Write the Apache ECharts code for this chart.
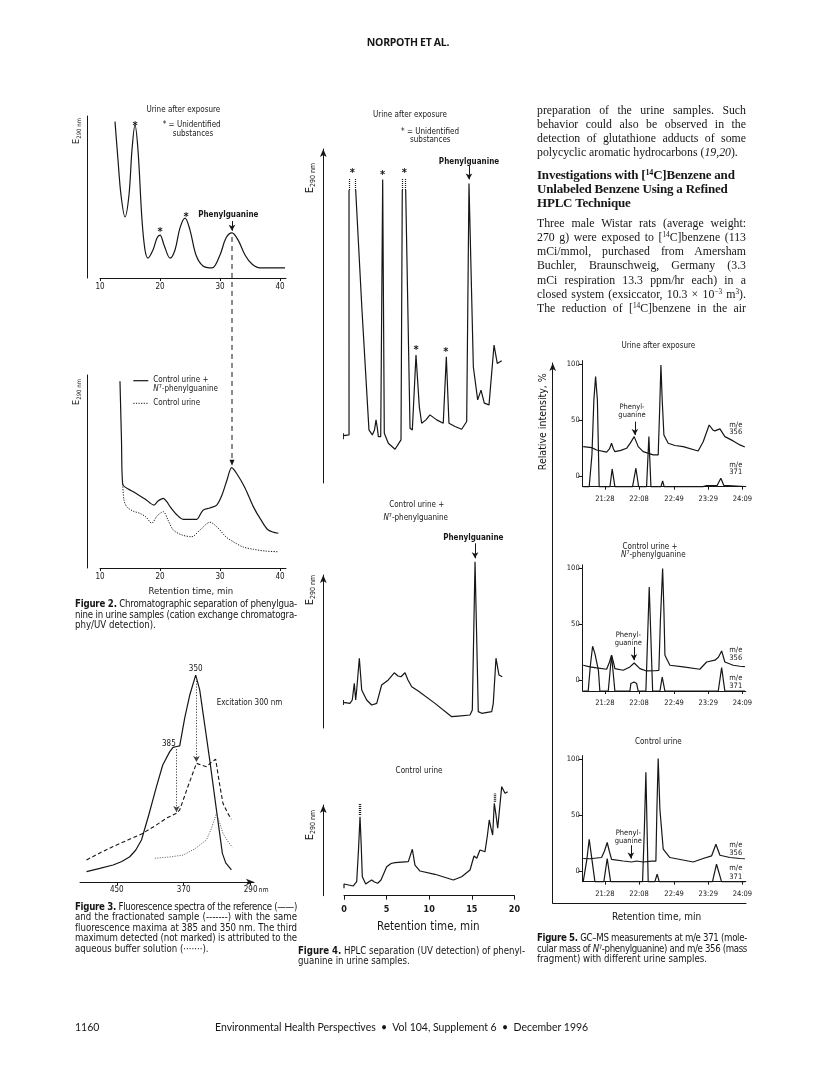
<!DOCTYPE html>
<html lang="en">
<head>
<meta charset="utf-8">
<title>Norpoth et al. - Figures 2 to 5</title>
<script src="https://cdn.jsdelivr.net/npm/echarts@6/dist/echarts.min.js"></script>
<style>
  html, body { margin: 0; padding: 0; background: #fff; }
  #page { position: relative; width: 816px; height: 1070px; overflow: hidden; }
  #chart { position: absolute; left: 0; top: 0; width: 816px; height: 1070px; }
  #text { position: absolute; left: 0; top: 0; width: 816px; height: 1070px; pointer-events: none; }
  .t { position: absolute; white-space: nowrap; color: #161616; }
  .cap { font-family: 'Liberation Sans Narrow', 'Arial Narrow', 'DejaVu Sans Condensed', sans-serif; font-size: 9.6px; }
  .body { font-family: 'Liberation Serif', serif; font-size: 11.8px; }
  .head { font-family: 'Liberation Serif', serif; font-size: 13px; font-weight: bold; letter-spacing: -0.2px; }
  sup { font-size: 0.62em; line-height: 0; vertical-align: 0.5em; }
</style>
</head>
<body>
<div id="page">
  <div id="chart"></div>
  <div id="text"></div>
</div>
<script>
// ---- Figure 2: cation exchange chromatogram, E290 vs retention time (min)
const fig2Ticks = [10, 20, 30, 40];
const fig2Time = [12.5, 13.0, 13.5, 14.17, 14.83, 15.33, 15.83, 16.33, 17.0, 17.5, 18.0, 18.83, 19.5, 20.0, 20.67, 21.67, 22.5, 23.33, 24.17, 25.0, 26.0, 27.17, 28.67, 30.0, 31.0, 32.0, 33.0, 34.17, 35.33, 36.67, 40.83];
const fig2Exposed = [96.5, 72.8, 51.2, 37.7, 51.2, 79, 94.4, 79, 35.8, 17.3, 12.3, 17.3, 24.7, 26.5, 20.4, 12.3, 17.3, 30.9, 37, 29.6, 14.2, 7.4, 6.2, 14.2, 24.7, 27.8, 23.5, 14.2, 8.6, 6.2, 6.2];
const fig2CtrlTime = [13.33, 13.58, 13.78, 15.55, 17.5, 19.0, 19.67, 20.55, 21.17, 21.67, 22.67, 23.88, 26.12, 26.67, 27.22, 28.33, 29.45, 30.33, 31.17, 31.95, 32.83, 34.17, 35.55, 36.83, 38.05, 39.72];
const fig2Spiked = [96.8, 66.3, 43.5, 39.5, 35.8, 32.6, 34.7, 36.1, 34.2, 31.8, 28, 25.2, 25.2, 27.5, 30.1, 31.1, 32.6, 37.8, 45.6, 52, 48.7, 41.5, 31.8, 24.9, 19.7, 18];
const fig2CtrlOnlyTime = [13.78, 14.0, 14.45, 15.5, 16.67, 17.67, 18.62, 19.5, 20.55, 21.33, 22.22, 23.67, 25.28, 26.67, 28.33, 29.67, 31.0, 32.22, 33.83, 35.55, 37.5, 39.72];
const fig2Ctrl = [43.5, 35.2, 31.8, 29.5, 28.3, 26.4, 23.2, 26.9, 29.2, 24.9, 19.7, 17.1, 16.2, 19.7, 23.7, 20.7, 16.1, 13.6, 10.9, 9.7, 8.8, 8.4];
const fig2StarAt = [[15.83, 95.5], [20.0, 30.1], [24.33, 39.5]];
const fig2Arrow = [[32.0, 35.2], [32.0, 29.2]];

// ---- Figure 3: fluorescence spectra, intensity vs wavelength (nm)
const fig3Ticks = [450, 370, 290];
const fig3RefWl = [486.2, 470.3, 454.4, 444, 434.5, 427.3, 420.5, 411.8, 402.6, 395.1, 386.7, 382.8, 378.4, 374.8, 368.8, 362.8, 355.7, 350.9, 344.9, 338.9, 330.9, 323.8, 319.8, 313];
const fig3Ref = [4.9, 6.4, 8.0, 9.7, 11.9, 15.1, 19.8, 31.6, 45, 55.2, 61.5, 63.5, 63.9, 64.2, 77.4, 88.2, 97.6, 90.6, 74.1, 57.5, 34, 13.5, 9, 5.7];
const fig3FracWl = [486.2, 470.3, 454.4, 436.9, 420.5, 404.6, 390.3, 378.7, 374.8, 365.2, 354.8, 349.6, 342.9, 336.6, 331.8, 327, 323.1, 317.5, 313];
const fig3Frac = [10.4, 13.7, 16.7, 19.8, 22.6, 26.4, 30.2, 32.4, 34, 44.8, 56, 55.2, 54.4, 56.6, 57.9, 45.8, 37.1, 32.5, 29.6];
const fig3BufWl = [404.6, 386.7, 370.8, 356.9, 342.9, 336.6, 331, 327, 323.1, 317.5, 312];
const fig3Buf = [11.2, 11.8, 12.7, 15.6, 19.8, 25.5, 32.4, 27.8, 23, 19.3, 16.4];
const fig3Arrows = [[[378.7, 62.7], [378.7, 33.0]], [[354.8, 96.2], [354.8, 56.6]]];

// ---- Figure 4: HPLC, E290 vs retention time (min); null = gap above a cut-off peak
const fig4ExpTime = [-0.08, -0.08, -0.08, 0.59, 0.59, 0.98, 1.37, 2.11, 2.93, 3.32, 3.58, 3.76, 3.91, 4.03, 4.31, 4.54, 4.73, 5.2, 5.99, 6.69, 6.84, 7.04, 7.24, 7.75, 8.02, 8.45, 8.84, 9.12, 9.62, 10.09, 10.88, 11.65, 12.01, 12.32, 13.03, 13.81, 14.4, 14.67, 15.18, 15.69, 16.08, 16.47, 17.02, 17.61, 17.99, 18.51];
const fig4Exp = [13.1, 14.9, 14.2, 14.4, 87.7, null, 87.7, 51.8, 15.9, 14.4, 15.9, 18.9, 16.5, 13.9, 13.9, 90.9, 14.9, 11.9, 10.1, 12.9, 87.7, null, 87.7, 16.4, 15.9, 38.3, 22.8, 17.9, 18.9, 20.4, 18.9, 17.9, 37.8, 17.9, 16.9, 16.1, 18.4, 89.7, 34.8, 24.9, 27.8, 23.9, 23.4, 41.3, 35.8, 36.6];
const fig4SpikedTime = [-0.08, -0.08, -0.08, 0.7, 0.97, 1.21, 1.37, 1.49, 1.8, 2.08, 2.66, 3.25, 3.84, 4.42, 5.2, 5.9, 6.34, 6.69, 7.16, 7.51, 7.95, 8.72, 10.68, 12.64, 13.42, 14.79, 15.06, 15.38, 15.76, 16.16, 17.34, 17.52, 17.84, 18.19, 18.58];
const fig4Spiked = [15.0, 18.3, 16.7, 16.1, 18.3, 29.2, 18.3, 24.8, 45.6, 24.8, 18.3, 15.0, 16.1, 28.1, 31.4, 36.1, 34, 33.5, 36.1, 31.4, 27, 24.2, 16.1, 7.4, 7.8, 8.5, 11.8, 108.7, 10.7, 9.6, 10.7, 16.1, 45.6, 34.6, 33.5];
const fig4CtrlTime = [0, 0, 0, 1.09, 1.49, 1.7, 1.88, 2.02, 2.15, 2.55, 2.88, 3.25, 3.58, 3.96, 4.34, 5.01, 5.52, 5.99, 7.55, 7.75, 8.02, 8.33, 8.92, 10.68, 12.83, 13.81, 14.79, 15.26, 15.58, 15.96, 16.55, 16.84, 17.05, 17.25, 17.45, 17.64, 17.84, 18.04, 18.51, 18.9, 19.21];
const fig4Ctrl = [8.2, 12.9, 10.7, 10.7, 15.4, 50.4, 87.1, 55.9, 20.9, 12.9, 15.1, 17.3, 15.1, 13.7, 17.3, 32, 35.5, 36.4, 37.5, 35.7, 51.2, 33.8, 27.2, 23.6, 17.3, 20.9, 28.3, 43.8, 41.2, 50.4, 48.5, 66.9, 83.5, 74.6, 66.9, 101.9, 89, 74.3, 120.2, 112.9, 114.7];
const fig4StarAt = [[0.97, 93.7], [4.54, 93.2], [7.08, 93.7], [8.45, 40.6], [11.94, 40.0]];
const fig4ExpArrow = [[14.67, 94.9], [14.67, 90.9]];
const fig4SpikedArrow = [[15.38, 120.7], [15.38, 110.9]];
const fig4ExpCut = [[[0.59, 87.7], [0.59, 91.3]], [[1.37, 87.7], [1.37, 91.3]], [[6.84, 87.7], [6.84, 91.3]], [[7.24, 87.7], [7.24, 91.3]]];
const fig4CtrlCut = [[[1.88, 89], [1.88, 102.2]], [[17.64, 103.6], [17.64, 112.9]]];

// ---- Figure 5: GC-MS, relative intensity (%) vs time (seconds after 20:00)
const fig5TickSec = [88, 128, 169, 209, 249];
const fig5TickLabels = ['21:28', '22:08', '22:49', '23:29', '24:09'];
const fig5YTicks = [0, 50, 100];
const fig5Time356Top = [62.6, 72.4, 78.3, 90, 93.3, 95.8, 98, 99.7, 106.7, 113.4, 117.9, 122.3, 127, 132.8, 144.6, 150.4, 152.1, 153.6, 155.1, 157.1, 162.1, 170, 179.7, 197.2, 203.1, 210.1, 214.4, 216.8, 222.7, 228.5, 238.2, 246.1, 251.9];
const fig5Exp356 = [26.2, 25.3, 23.2, 21.2, 24.1, 29.2, 24.1, 21.7, 22.8, 24.7, 29.5, 35.1, 26.2, 21.7, 18.8, 18.8, 58.9, 99.1, 67.9, 36.6, 29.2, 27.2, 26.2, 22.3, 30.6, 45.5, 41.1, 40.2, 42, 35.1, 31.3, 27.7, 25.9];
const fig5Time371Top = [62.6, 69.6, 72.8, 75.1, 77.1, 79.2, 81.3, 93.9, 96.5, 99.7, 120.4, 124.3, 127.5, 136.8, 139.5, 141.9, 153.6, 155.6, 157.4, 202.8, 207.1, 219.2, 223.8, 227.3, 251.9];
const fig5Exp371 = [-9.6, -9.6, 18.8, 67.9, 88.7, 67.9, -9.6, -9.6, 6.25, -9.6, -9.6, 6.9, -9.6, -9.6, 35.1, -9.6, -9.6, -4.5, -9.6, -9.6, -8.7, -8.7, -2.1, -8.5, -9.4];
const fig5Time356Mid = [62.6, 70.4, 78.3, 90, 93.3, 95.8, 98, 99.7, 109.4, 117.3, 122.3, 129, 136.8, 146.5, 151.2, 153, 155.6, 157.1, 158.3, 164.1, 179.7, 199.2, 207.1, 216.8, 220.9, 224.7, 228.5, 238.2, 246.1, 251.9];
const fig5Spiked356 = [13.4, 11.9, 11, 9.8, 16.1, 22.3, 16.1, 10.4, 8.9, 11.9, 15.4, 10.4, 8.3, 8.5, 8.9, 53.6, 99.7, 62.5, 22.3, 13.4, 11.9, 9.8, 16.3, 17.9, 20.5, 26.2, 16.3, 13.4, 12.5, 12.1];
const fig5Time371Mid = [62.6, 68.4, 71, 73.6, 76.3, 78.3, 80.4, 82.1, 91.9, 95.8, 99.7, 117.3, 118.4, 122.3, 125.1, 127, 136, 139.9, 143.9, 152.4, 155.1, 158.3, 220.7, 224.7, 228.5, 251.9];
const fig5Spiked371 = [-9.8, -9.8, 13.4, 30.4, 23.8, 25.3, 8.9, -9.8, -9.8, 22.3, -9.8, -9.8, -2.9, -1.5, -2.9, -9.8, -9.8, 83.3, -9.8, -9.8, 2.9, -9.8, -9.8, 11.3, -9.8, -9.8];
const fig5Time356Ctrl = [62.6, 70.4, 84.1, 87.4, 90.7, 93.2, 95.8, 109.4, 119.3, 125.1, 132.8, 143, 147.7, 148.9, 150.4, 152.4, 156.3, 164.1, 191.4, 203.1, 212.9, 218, 222.7, 234.4, 246.1, 251.9];
const fig5Ctrl356 = [11.1, 10.9, 12, 17.6, 25.4, 17.6, 10.4, 8.9, 8, 8.9, 8, 8.7, 8.7, 55.1, 100.4, 55.1, 19.4, 12, 8, 11.1, 13.4, 23.8, 14, 12, 11.1, 10.9];
const fig5Time371Ctrl = [62.6, 64.6, 66.9, 69.6, 72.8, 76.3, 86.8, 90.7, 94.7, 132.1, 134.2, 136, 137.4, 138.7, 146.5, 149.2, 151.6, 214, 218.7, 224.6, 251.9];
const fig5Ctrl371 = [-9.5, -9.5, 10.4, 28.3, 10.4, -9.5, -9.5, 11.1, -9.5, -9.5, 37.2, 88.1, 37.2, -9.5, -9.5, -2.9, -9.5, -9.5, 6, -9.5, -9.5];
const fig5ArrowTop = [[123.1, 48.5], [123.1, 36.6]];
const fig5ArrowMid = [[122, 29.7], [122, 17.9]];
const fig5ArrowCtrl = [[118.4, 22.9], [118.4, 11.1]];

// ---- page text
const bodyPara1 = ['preparation of the urine samples. Such', 'behavior could also be observed in the', 'detection of glutathione adducts of some', 'polycyclic aromatic hydrocarbons (<i>19,20</i>).'];
const bodyHead = ['Investigations with [<sup>14</sup>C]Benzene and', 'Unlabeled Benzene Using a Refined', 'HPLC Technique'];
const bodyPara2 = ['Three male Wistar rats (average weight:', '270 g) were exposed to [<sup>14</sup>C]benzene (113', 'mCi/mmol, purchased from Amersham', 'Buchler, Braunschweig, Germany (3.3', 'mCi respiration 13.3 ppm/hr each) in a', 'closed system (exsiccator, 10.3 × 10<sup>−3</sup> m<sup>3</sup>).', 'The reduction of [<sup>14</sup>C]benzene in the air'];
const fig2Caption = ['<b>Figure 2.</b> Chromatographic separation of phenylgua-', 'nine in urine samples (cation exchange chromatogra-', 'phy/UV detection).'];
const fig3Caption = ['<b>Figure 3.</b> Fluorescence spectra of the reference (——)', 'and the fractionated sample (-------) with the same', 'fluorescence maxima at 385 and 350 nm. The third', 'maximum detected (not marked) is attributed to the', 'aqueous buffer solution (·······).'];
const fig4Caption = ['<b>Figure 4.</b> HPLC separation (UV detection) of phenyl-', 'guanine in urine samples.'];
const fig5Caption = ['<b>Figure 5.</b> GC–MS measurements at m/e 371 (mole-', 'cular mass of <i>N</i><sup>7</sup>-phenylguanine) and m/e 356 (mass', 'fragment) with different urine samples.'];

const INK = '#161616';
const FONT = "'Liberation Sans Narrow', 'Arial Narrow', 'DejaVu Sans Condensed', sans-serif";

const pairs = (xs, ys) => xs.map((x, i) => [x, ys[i] === null ? '-' : ys[i]]);
const lbl = o => Object.assign({show: true, color: INK, fontFamily: FONT, fontSize: 8}, o);

function line(g, xs, ys, extra) {
  const s = {
    type: 'line', xAxisIndex: g, yAxisIndex: g, data: pairs(xs, ys),
    symbol: 'none', clip: false, silent: true, smooth: false, connectNulls: false,
    lineStyle: {color: INK, width: 1.2}
  };
  if (extra && extra.lineStyle) { Object.assign(s.lineStyle, extra.lineStyle); delete extra.lineStyle; }
  return Object.assign(s, extra);
}
function stars(list) {
  return {
    silent: true, symbol: 'circle', symbolSize: 0,
    label: lbl({formatter: '*', fontSize: 11, fontWeight: 'bold', position: 'inside', offset: [0, 3]}),
    data: list.map(c => ({coord: c}))
  };
}
function arrowItem(pair, dotted) {
  return [
    {coord: pair[0], symbol: 'none', lineStyle: dotted ? {type: [1.2, 1.6], color: '#444'} : {}},
    {coord: pair[1], symbol: 'arrow', symbolSize: [5, 6]}
  ];
}
function cutItem(pair, w) {
  return [{coord: pair[0], symbol: 'none', lineStyle: {type: [1, 1], width: w}}, {coord: pair[1], symbol: 'none'}];
}
function marks(data) {
  return {silent: true, animation: false, label: {show: false}, lineStyle: {color: INK, width: 1, type: 'solid'}, data};
}

const lineOn = {show: true, onZero: false, lineStyle: {color: INK, width: 1}};
const noAxis = (g, min, max) => ({gridIndex: g, type: 'value', min, max, show: false, splitLine: {show: false}});
const arrowAxis = g => ({
  gridIndex: g, type: 'value', min: 0, max: 1,
  axisLine: Object.assign({}, lineOn, {symbol: ['none', 'arrow'], symbolSize: [5, 8]}),
  axisTick: {show: false}, axisLabel: {show: false}, splitLine: {show: false}
});
const fig2X = g => ({
  gridIndex: g, type: 'value', min: 10, max: 41, axisLine: lineOn,
  axisTick: {show: true, length: 3, customValues: fig2Ticks, lineStyle: {color: INK}},
  axisLabel: {customValues: fig2Ticks, fontSize: 8, color: INK, margin: 5},
  splitLine: {show: false}
});
const fig2Y = g => ({
  gridIndex: g, type: 'value', min: 0, max: 100, offset: 13, axisLine: lineOn,
  axisTick: {show: false}, axisLabel: {show: false}, splitLine: {show: false}
});
const fig5X = g => ({
  gridIndex: g, type: 'value', min: 62, max: 253, axisLine: lineOn,
  axisTick: {show: true, length: 3, customValues: fig5TickSec, lineStyle: {color: INK}},
  axisLabel: {customValues: fig5TickSec, formatter: v => fig5TickLabels[fig5TickSec.indexOf(v)], fontSize: 7.5, color: INK, margin: 8},
  splitLine: {show: false}
});
const fig5Y = g => ({
  gridIndex: g, type: 'value', min: -9.6, max: 103, axisLine: lineOn,
  axisTick: {show: true, length: 4, customValues: fig5YTicks, lineStyle: {color: INK}},
  axisLabel: {customValues: fig5YTicks, fontSize: 7.5, color: INK, margin: 3},
  splitLine: {show: false}
});

const grids = [
  {left: 100, top: 116, width: 186, height: 162},      // 0 fig2 upper
  {left: 100, top: 375, width: 186, height: 193},      // 1 fig2 lower
  {left: 80, top: 670, width: 174, height: 212},       // 2 fig3
  {left: 344, top: 149, width: 170.4, height: 334},    // 3 fig4 upper data
  {left: 344, top: 535.2, width: 170.4, height: 192.8},// 4 fig4 middle data
  {left: 344, top: 782.3, width: 170.4, height: 113.4},// 5 fig4 lower data
  {left: 323.3, top: 149, width: 20, height: 334},     // 6 fig4 upper arrow axis
  {left: 323.3, top: 575, width: 20, height: 153},     // 7 fig4 middle arrow axis
  {left: 323.3, top: 805, width: 20, height: 90.7},    // 8 fig4 lower arrow axis
  {left: 552.7, top: 363, width: 193.3, height: 540},  // 9 fig5 outer frame
  {left: 582.7, top: 360.6, width: 163.1, height: 126.1}, // 10 fig5 upper
  {left: 582.7, top: 564.9, width: 163.1, height: 126.1}, // 11 fig5 middle
  {left: 582.7, top: 755.6, width: 163.1, height: 126.1}  // 12 fig5 lower
];

const xAxes = [
  fig2X(0), fig2X(1),
  {gridIndex: 2, type: 'value', inverse: true, min: 286, max: 494,
   axisLine: Object.assign({}, lineOn, {symbol: ['none', 'arrow'], symbolSize: [5, 8]}),
   axisTick: {show: true, length: 3, customValues: fig3Ticks, lineStyle: {color: INK}},
   axisLabel: {customValues: fig3Ticks, fontSize: 8, color: INK, margin: 4},
   splitLine: {show: false}},
  noAxis(3, 0, 20), noAxis(4, 0, 20),
  {gridIndex: 5, type: 'value', min: 0, max: 20, interval: 5, axisLine: lineOn,
   axisTick: {show: true, length: 4, lineStyle: {color: INK}},
   axisLabel: {fontSize: 9, fontWeight: 'bold', color: INK, margin: 9},
   splitLine: {show: false}},
  noAxis(6, 0, 1), noAxis(7, 0, 1), noAxis(8, 0, 1),
  {gridIndex: 9, type: 'value', min: 0, max: 1, axisLine: lineOn, axisTick: {show: false}, axisLabel: {show: false}, splitLine: {show: false}},
  fig5X(10), fig5X(11), fig5X(12)
];
const yAxes = [
  fig2Y(0), fig2Y(1), noAxis(2, 0, 100),
  noAxis(3, 0, 100), noAxis(4, 0, 126), noAxis(5, 0, 125),
  arrowAxis(6), arrowAxis(7), arrowAxis(8), arrowAxis(9),
  fig5Y(10), fig5Y(11), fig5Y(12)
];

const series = [
  line(0, fig2Time, fig2Exposed, {smooth: 0.35, markPoint: stars(fig2StarAt), markLine: marks([arrowItem(fig2Arrow)])}),
  line(1, fig2CtrlTime, fig2Spiked, {smooth: 0.3}),
  line(1, fig2CtrlOnlyTime, fig2Ctrl, {smooth: 0.3, lineStyle: {type: [1.2, 1.4], width: 1}}),
  line(2, fig3RefWl, fig3Ref, {
    markPoint: {silent: true, symbol: 'circle', symbolSize: 0, data: [
      {coord: [fig3RefWl[16], fig3Ref[16]], label: lbl({formatter: '350', position: 'top', distance: 2})},
      {coord: [fig3RefWl[12], fig3Ref[12]], label: lbl({formatter: '385', position: 'left', distance: 1, offset: [0, -3]})}
    ]},
    markLine: marks(fig3Arrows.map(p => arrowItem(p, true)))
  }),
  line(2, fig3FracWl, fig3Frac, {lineStyle: {type: [4, 2.5], width: 1.1}}),
  line(2, fig3BufWl, fig3Buf, {lineStyle: {type: [1, 1.5], width: 1, color: '#555'}}),
  line(3, fig4ExpTime, fig4Exp, {markPoint: stars(fig4StarAt), markLine: marks([arrowItem(fig4ExpArrow)].concat(fig4ExpCut.map(p => cutItem(p, 1.2))))}),
  line(4, fig4SpikedTime, fig4Spiked, {markLine: marks([arrowItem(fig4SpikedArrow)])}),
  line(5, fig4CtrlTime, fig4Ctrl, {markLine: marks(fig4CtrlCut.map(p => cutItem(p, 2.4)))}),
  line(10, fig5Time356Top, fig5Exp356, {markLine: marks([arrowItem(fig5ArrowTop)])}),
  line(10, fig5Time371Top, fig5Exp371),
  line(11, fig5Time356Mid, fig5Spiked356, {markLine: marks([arrowItem(fig5ArrowMid)])}),
  line(11, fig5Time371Mid, fig5Spiked371),
  line(12, fig5Time356Ctrl, fig5Ctrl356, {markLine: marks([arrowItem(fig5ArrowCtrl)])}),
  line(12, fig5Time371Ctrl, fig5Ctrl371)
];

// free-standing labels of the figures
function T(text, x, y, o) {
  o = o || {};
  return {
    type: 'text', x, y, silent: true, z: 10, rotation: o.rot || 0,
    style: {
      text, fill: INK, fontFamily: FONT, fontSize: o.size || 8,
      fontWeight: o.bold ? 'bold' : 'normal',
      align: o.align || 'center', verticalAlign: 'middle', rich: o.rich
    }
  };
}
const tok = (size, lh, va, extra) => Object.assign({fontSize: size, lineHeight: lh, verticalAlign: va, fontFamily: FONT, fill: INK}, extra);
const eRich = (big, small) => ({e: tok(big, big + 2, 'middle'), s: tok(small, small, 'bottom')});
const nRich = size => ({i: tok(size, size + 2, 'middle', {fontStyle: 'italic'}), p: tok(size * 0.68, size * 0.68, 'top'), n: tok(size, size + 2, 'middle')});
const E290 = (x, y, big, small) => T('{e|E}{s|290 nm}', x, y, {rot: Math.PI / 2, rich: eRich(big, small)});
const N7 = (x, y, align) => T('{i|N}{p|7}{n|-phenylguanine}', x, y, {align: align || 'center', rich: nRich(8)});

const labels = [
  // figure 2
  T('Urine after exposure', 183.3, 110),
  T('* = Unidentified', 162.7, 125, {align: 'left'}),
  T('substances', 172.7, 133.5, {align: 'left'}),
  T('Phenylguanine', 228.3, 215, {bold: true}),
  E290(77, 131, 9, 6), E290(77, 392, 9, 6),
  {type: 'line', silent: true, shape: {x1: 133.3, y1: 380.7, x2: 148.3, y2: 380.7}, style: {stroke: INK, lineWidth: 1.2}},
  T('Control urine +', 153.3, 380, {align: 'left'}),
  N7(153.3, 389.3, 'left'),
  {type: 'line', silent: true, shape: {x1: 133.3, y1: 403.3, x2: 148.3, y2: 403.3}, style: {stroke: INK, lineWidth: 1, lineDash: [1.2, 1.4]}},
  T('Control urine', 153.3, 403.3, {align: 'left'}),
  T('Retention time, min', 190.8, 592, {size: 9.5}),
  // figure 3
  T('Excitation 300 nm', 216.7, 703, {align: 'left'}),
  T('nm', 258.5, 890.5, {align: 'left', size: 7}),
  // figure 4
  T('Urine after exposure', 410, 115),
  T('* = Unidentified', 401, 131.5, {align: 'left'}),
  T('substances', 410, 140, {align: 'left'}),
  T('Phenylguanine', 469, 161.7, {bold: true}),
  T('Control urine +', 416.7, 505),
  N7(415.7, 518.3),
  T('Phenylguanine', 473.3, 538.3, {bold: true}),
  T('Control urine', 419, 770.7),
  E290(310, 178, 11, 7), E290(310, 590, 11, 7), E290(310, 825, 11, 7),
  T('Retention time, min', 428.3, 926.7, {size: 11.5}),
  // figure 5
  T('Urine after exposure', 658.3, 345.7),
  T('Phenyl-', 632, 406.7, {size: 7.5}), T('guanine', 632, 415, {size: 7.5}),
  T('m/e', 729.3, 425, {align: 'left', size: 7.5}), T('356', 729.3, 432, {align: 'left', size: 7.5}),
  T('m/e', 729.3, 465, {align: 'left', size: 7.5}), T('371', 729.3, 472, {align: 'left', size: 7.5}),
  T('Control urine +', 650, 546.7),
  N7(653.3, 555),
  T('Phenyl-', 628.3, 635, {size: 7.5}), T('guanine', 628.3, 643.3, {size: 7.5}),
  T('m/e', 729.3, 650, {align: 'left', size: 7.5}), T('356', 729.3, 658.3, {align: 'left', size: 7.5}),
  T('m/e', 729.3, 678.3, {align: 'left', size: 7.5}), T('371', 729.3, 686, {align: 'left', size: 7.5}),
  T('Control urine', 658.3, 741.7),
  T('Phenyl-', 628.3, 833.3, {size: 7.5}), T('guanine', 628.3, 841, {size: 7.5}),
  T('m/e', 729.3, 845, {align: 'left', size: 7.5}), T('356', 729.3, 853.3, {align: 'left', size: 7.5}),
  T('m/e', 729.3, 868.3, {align: 'left', size: 7.5}), T('371', 729.3, 876.7, {align: 'left', size: 7.5}),
  T('Relative intensity, %', 543.3, 421.7, {rot: Math.PI / 2, size: 10.5}),
  T('Retention time, min', 656.5, 917.7, {size: 10})
];

const chart = echarts.init(document.getElementById('chart'), null, {renderer: 'canvas'});
chart.setOption({
  animation: false,
  backgroundColor: '#fff',
  textStyle: {fontFamily: FONT, color: INK},
  grid: grids,
  xAxis: xAxes,
  yAxis: yAxes,
  series: series
});

// dashed guide of figure 2: from the phenylguanine peak of the upper trace down to the spiked control
const iUp = fig2Exposed.indexOf(27.8);
const iLow = fig2Spiked.indexOf(52);
const pA = chart.convertToPixel({gridIndex: 0}, [fig2Time[iUp], fig2Exposed[iUp]]);
const pB = chart.convertToPixel({gridIndex: 1}, [fig2CtrlTime[iLow], fig2Spiked[iLow]]);
const tipY = pB[1] - 2;
chart.setOption({
  graphic: labels.concat([
    {type: 'line', silent: true, shape: {x1: pA[0], y1: pA[1] + 4, x2: pA[0], y2: tipY - 5}, style: {stroke: INK, lineWidth: 1, lineDash: [5, 4]}},
    {type: 'polygon', silent: true, shape: {points: [[pA[0] - 2.5, tipY - 6], [pA[0] + 2.5, tipY - 6], [pA[0], tipY]]}, style: {fill: INK}}
  ])
});

// page text (header, body column, captions, footer)
const layer = document.getElementById('text');
function put(html, cls, left, top, lh) {
  const d = document.createElement('div');
  d.className = 't ' + cls;
  d.style.left = left + 'px';
  d.style.top = top + 'px';
  d.style.lineHeight = lh + 'px';
  d.innerHTML = '<span>' + html + '</span>';
  layer.appendChild(d);
  return d;
}
// fit a line into the column: squeeze letters when too long, widen word gaps when short
function fit(span, width, stretch) {
  const w = span.getBoundingClientRect().width;
  if (w > width) {
    span.style.letterSpacing = ((width - w) / span.textContent.length) + 'px';
  } else if (stretch) {
    const gaps = (span.textContent.match(/ /g) || []).length;
    if (gaps) span.style.wordSpacing = ((width - w) / gaps) + 'px';
  }
}
function block(lines, cls, left, top, width, lh, justify, justifyLast) {
  lines.forEach((html, i) => {
    const d = put(html, cls, left, top + i * lh, lh);
    fit(d.firstChild, width, justify && (i < lines.length - 1 || justifyLast));
  });
}
const head = put('NORPOTH ET AL.', '', 0, 35, 14);
head.style.width = '816px';
head.style.textAlign = 'center';
head.style.font = "bold 10.5px 'Open Sans', sans-serif";
head.style.letterSpacing = '-0.3px';

block(bodyPara1, 'body', 537, 102.5, 209, 14.05, true, false);
block(bodyHead, 'head', 537, 168, 209, 14.2, false, false);
block(bodyPara2, 'body', 537, 216.3, 209, 14.05, true, true);

block(fig2Caption, 'cap', 75, 599, 222, 10.5, true, false);
block(fig3Caption, 'cap', 75, 901.5, 222, 10.5, true, false);
block(fig4Caption, 'cap', 298, 945.5, 227, 10.5, true, false);
block(fig5Caption, 'cap', 537, 933, 210, 10.5, true, false);

const f1 = put('1160', '', 75, 1021, 14);
f1.style.font = "10.5px Lato, sans-serif";
const f2 = put('Environmental Health Perspectives &nbsp;•&nbsp; Vol 104, Supplement 6 &nbsp;•&nbsp; December 1996', '', 215, 1021, 14);
f2.style.font = "10.5px Lato, sans-serif";
</script>
</body>
</html>
